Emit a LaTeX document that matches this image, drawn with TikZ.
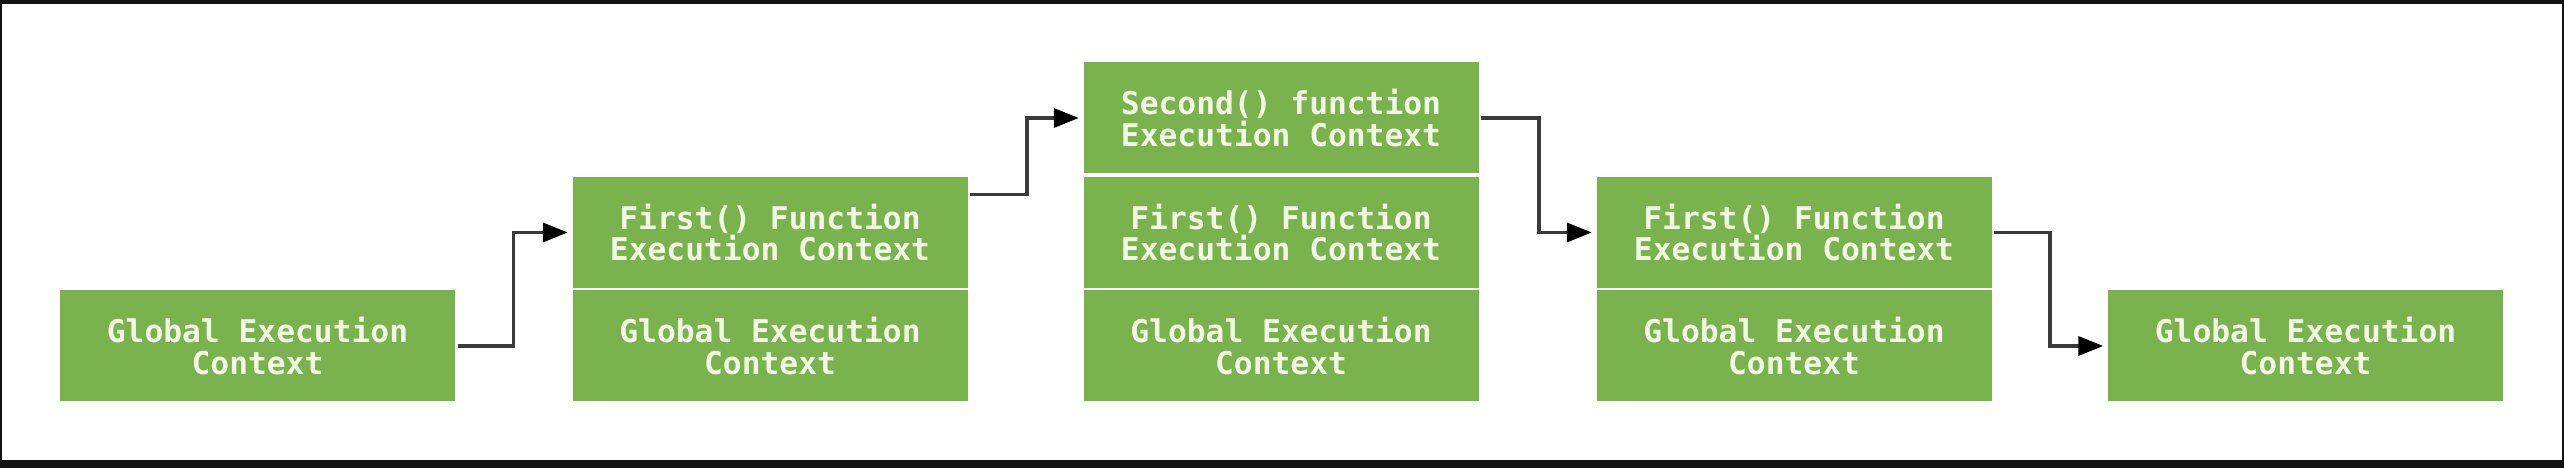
\documentclass[tikz,border=0pt]{standalone}
\usepackage{fontspec}
\setmonofont{DejaVu Sans Mono}
\usetikzlibrary{arrows.meta,calc}
\definecolor{boxgreen}{RGB}{122,179,78}
\definecolor{boxtext}{RGB}{240,249,228}
\definecolor{connline}{RGB}{58,58,58}
\begin{document}
\begin{tikzpicture}[
  ctx/.style={rectangle, fill=boxgreen, text=boxtext, inner sep=0pt,
    minimum width=3.95cm, minimum height=1.11cm, align=center,
    font=\fontsize{8.9}{9.0}\selectfont\ttfamily\bfseries},
  conn/.style={draw=connline, line width=1pt,
    -{Triangle[length=2.5mm,width=1.9mm,fill=black,color=black]},
    shorten >=0.04cm, shorten <=0.02cm}
]
% frame and margins
\fill[black!93] (0,0) rectangle (25.64,4.68);
\fill[white] (0.02,0.08) rectangle (25.62,4.64);
\useasboundingbox (0,0) rectangle (25.64,4.68);

% stack 1
\node[ctx] (g1) at (2.575,1.22) {Global Execution\\Context};
% stack 2
\node[ctx] (f2) at (7.70,2.355) {First() Function\\Execution Context};
\node[ctx] (g2) at (7.70,1.22) {Global Execution\\Context};
% stack 3
\node[ctx] (s3) at (12.81,3.50) {Second() function\\Execution Context};
\node[ctx] (f3) at (12.81,2.355) {First() Function\\Execution Context};
\node[ctx] (g3) at (12.81,1.22) {Global Execution\\Context};
% stack 4
\node[ctx] (f4) at (17.94,2.355) {First() Function\\Execution Context};
\node[ctx] (g4) at (17.94,1.22) {Global Execution\\Context};
% stack 5
\node[ctx] (g5) at (23.055,1.22) {Global Execution\\Context};

% connectors
\draw[conn] (g1.east) -- ($(g1.east)+(0.58,0)$) |- (f2.west);
\draw[conn] ([yshift=0.38cm]f2.east) -- ($([yshift=0.38cm]f2.east)+(0.59,0)$) |- (s3.west);
\draw[conn] (s3.east) -- ($(s3.east)+(0.60,0)$) |- (f4.west);
\draw[conn] (f4.east) -- ($(f4.east)+(0.58,0)$) |- (g5.west);
\end{tikzpicture}
\end{document}
